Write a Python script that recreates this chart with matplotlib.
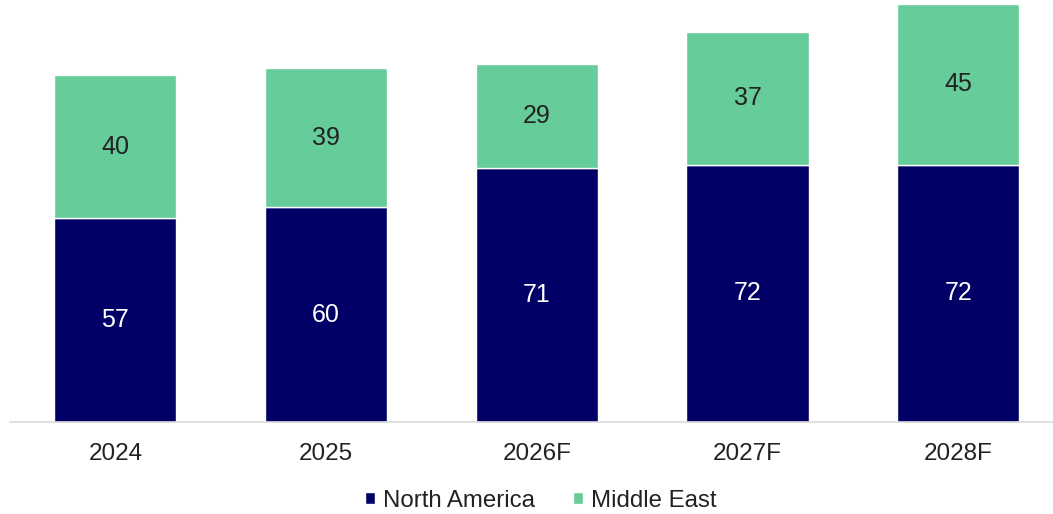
import numpy as np
import matplotlib.pyplot as plt

plt.rcParams['font.family'] = ['Liberation Sans', 'DejaVu Sans']

years = ['2024', '2025', '2026F', '2027F', '2028F']
north_america = [57, 60, 71, 72, 72]
middle_east = [40, 39, 29, 37, 45]

navy = '#000066'
green = '#66CC99'

fig = plt.figure(figsize=(10.53, 5.14), dpi=100)
ax = fig.add_axes([10 / 1053, 92 / 514, 1043 / 1053, 422 / 514])

x = np.arange(len(years))
w = 0.58
b1 = ax.bar(x, north_america, w, color=navy, edgecolor='white', linewidth=1, label='North America')
b2 = ax.bar(x, middle_east, w, bottom=north_america, color=green, edgecolor='white', linewidth=1,
            label='Middle East')

for i in range(len(years)):
    ax.text(x[i], north_america[i] / 2, str(north_america[i]), ha='center', va='center',
            color='white', fontsize=18)
    ax.text(x[i], north_america[i] + middle_east[i] / 2, str(middle_east[i]), ha='center',
            va='center', color='#222222', fontsize=18)

ax.set_xlim(-0.5, 4.45)
ax.set_ylim(0, 118)
ax.set_xticks(x)
ax.set_xticklabels(years, fontsize=17.5, color='#222222')
ax.tick_params(axis='x', length=0, pad=15)
ax.set_yticks([])
for s in ['top', 'right', 'left']:
    ax.spines[s].set_visible(False)
ax.spines['bottom'].set_color('#d9d9d9')
ax.spines['bottom'].set_linewidth(1.2)

fig.legend(handles=[b1, b2], loc='center', bbox_to_anchor=(541 / 1053, 1 - 501 / 514), ncol=2,
           frameon=False, fontsize=17.3, handlelength=0.4, handleheight=0.4, handletextpad=0.35,
           columnspacing=1.6, labelcolor='#222222')

fig.savefig('out.png', dpi=100)
